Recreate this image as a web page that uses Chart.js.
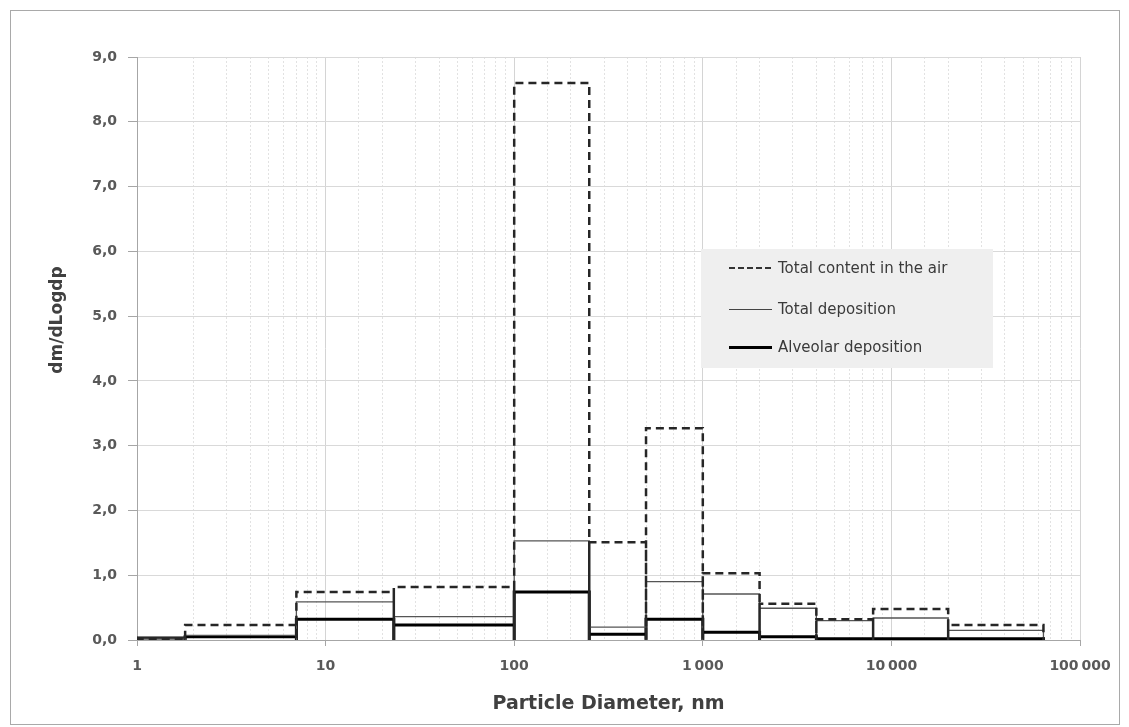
<!DOCTYPE html>
<html>
<head>
<meta charset="utf-8">
<script src="https://cdn.jsdelivr.net/npm/chart.js@4"></script>
<style>
  body { margin: 0; background: #fff; }
  #wrap { position: relative; width: 1129px; height: 727px; }
  #frame { position: absolute; left: 10px; top: 10px; width: 1108px; height: 713px; border: 1px solid #a9a9a9; pointer-events: none; }
  #ytitle { position: absolute; left: 56px; top: 320px; transform: translate(-50%, -50%) rotate(-90deg);
            font-family: "DejaVu Sans", sans-serif; font-weight: bold; font-size: 17px; color: #404040; white-space: nowrap; }
  #legend { position: absolute; left: 701px; top: 249px; width: 292px; height: 119px; background: #efefef;
            font-family: "DejaVu Sans", sans-serif; font-size: 15px; color: #3a3a3a; }
  .row { position: absolute; left: 28px; height: 18px; display: flex; align-items: center; white-space: nowrap; }
  .row span.s { display: inline-block; width: 43px; margin-right: 6px; }
  .dash { height: 1.5px; background: repeating-linear-gradient(to right, #333 0 6px, transparent 6px 9px); }
</style>
</head>
<body>
<div id="wrap">
  <canvas id="myChart" width="1129" height="727"></canvas>
  <div id="frame"></div>
  <div id="ytitle">dm/dLogdp</div>
  <div id="legend">
    <div class="row" style="top:10px"><span class="s dash"></span>Total content in the air</div>
    <div class="row" style="top:51px"><span class="s" style="border-top:1px solid #444"></span>Total deposition</div>
    <div class="row" style="top:89px"><span class="s" style="border-top:3px solid #000"></span>Alveolar deposition</div>
  </div>
</div>
<script>
// bin edges, nm
const binEdges = [1, 1.8, 7, 23, 100, 250, 500, 1000, 2000, 4000, 8000, 20000, 64000];
const totalAir = [0.02, 0.23, 0.74, 0.82, 8.6, 1.51, 3.27, 1.03, 0.56, 0.32, 0.48, 0.23];
const totalDep = [0.03, 0.07, 0.59, 0.36, 1.53, 0.20, 0.90, 0.71, 0.49, 0.30, 0.34, 0.15];
const alveolarDep = [0.03, 0.05, 0.32, 0.23, 0.74, 0.09, 0.32, 0.12, 0.05, 0.02, 0.02, 0.02];
const seriesNames = ['Total content in the air', 'Total deposition', 'Alveolar deposition'];
const yTicks = [0, 1, 2, 3, 4, 5, 6, 7, 8, 9];

function histPoints(vals) {
    const pts = [];
    vals.forEach(function(v, i) {
        pts.push({x: binEdges[i], y: 0});
        pts.push({x: binEdges[i], y: v});
        pts.push({x: binEdges[i + 1], y: v});
        pts.push({x: binEdges[i + 1], y: 0});
    });
    return pts;
}

function isMajor(v) {
    const l = Math.log10(v);
    return Math.abs(l - Math.round(l)) < 1e-9;
}

const font = '"DejaVu Sans", sans-serif';

const ctx = document.getElementById('myChart').getContext('2d');
new Chart(ctx, {
    type: 'line',
    data: {
        datasets: [
            {
                label: seriesNames[0],
                data: histPoints(totalAir),
                borderColor: '#262626',
                borderWidth: 2.5,
                borderDash: [8, 5],
                pointRadius: 0,
                tension: 0
            },
            {
                label: seriesNames[1],
                data: histPoints(totalDep),
                borderColor: '#555555',
                borderWidth: 1.3,
                pointRadius: 0,
                tension: 0
            },
            {
                label: seriesNames[2],
                data: histPoints(alveolarDep),
                borderColor: '#000000',
                borderWidth: 3,
                pointRadius: 0,
                tension: 0
            }
        ]
    },
    options: {
        responsive: false,
        animation: false,
        layout: { padding: { left: 0, right: 49, top: 57, bottom: 0 } },
        plugins: {
            legend: { display: false },
            tooltip: { enabled: false }
        },
        scales: {
            x: {
                type: 'logarithmic',
                min: 1,
                max: 100000,
                afterFit: function(scale) { scale.height = 87; },
                grid: {
                    color: function(c) { return isMajor(c.tick.value) ? '#d4d4d4' : '#e2e2e2'; },
                    lineWidth: 1,
                    tickColor: function(c) { return isMajor(c.tick.value) ? '#a6a6a6' : 'rgba(0,0,0,0)'; },
                    tickLength: 6
                },
                border: {
                    color: '#a6a6a6',
                    dash: function(c) { return (c.tick && !isMajor(c.tick.value)) ? [2, 2] : []; }
                },
                ticks: {
                    autoSkip: false,
                    maxRotation: 0,
                    padding: 12,
                    color: '#595959',
                    font: { family: font, size: 14, weight: 'bold' },
                    callback: function(v) {
                        if (!isMajor(v)) return '';
                        return String(Math.round(v)).replace(/\B(?=(\d{3})+(?!\d))/g, '\u2009');
                    }
                },
                title: {
                    display: true,
                    text: 'Particle Diameter, nm',
                    color: '#404040',
                    font: { family: font, size: 19, weight: 'bold' },
                    padding: { top: 0, bottom: 12 }
                }
            },
            y: {
                min: 0,
                max: 9,
                afterFit: function(scale) { scale.width = 137; },
                afterBuildTicks: function(scale) {
                    scale.ticks = yTicks.map(function(v) { return {value: v}; });
                },
                grid: {
                    color: '#d9d9d9',
                    tickColor: '#a6a6a6',
                    tickLength: 9
                },
                border: { color: '#a6a6a6' },
                ticks: {
                    padding: 11,
                    color: '#595959',
                    font: { family: font, size: 14, weight: 'bold' },
                    callback: function(v) { return v.toFixed(1).replace('.', ','); }
                }
            }
        }
    }
});
</script>
</body>
</html>
